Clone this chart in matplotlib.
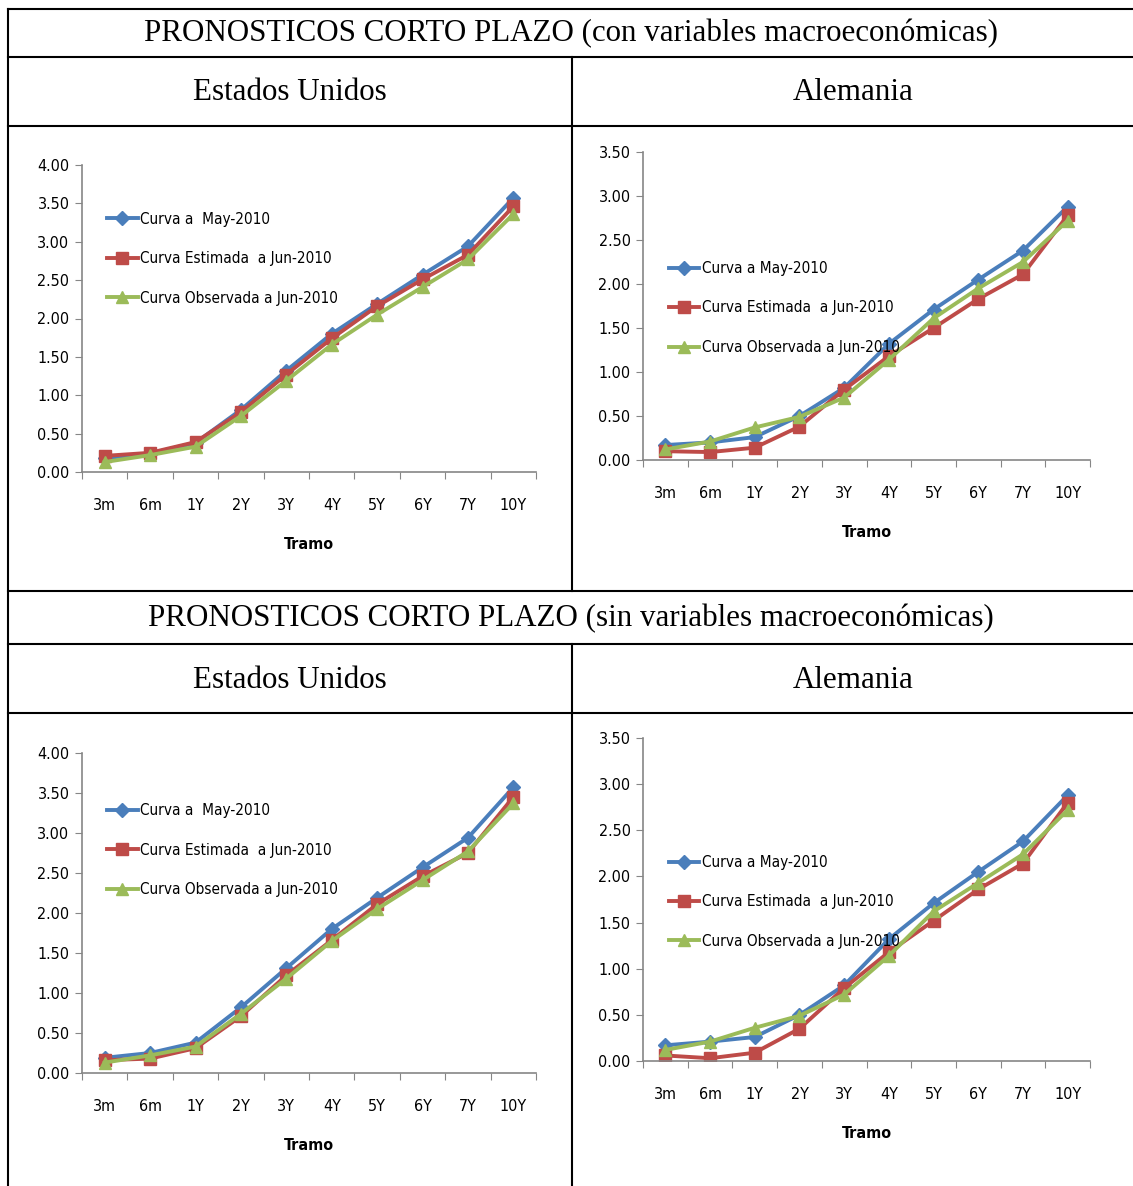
import matplotlib
matplotlib.use("Agg")
import matplotlib.pyplot as plt
from matplotlib.lines import Line2D
from matplotlib import font_manager

# Tramos de la curva
tramos = ['3m', '6m', '1Y', '2Y', '3Y', '4Y', '5Y', '6Y', '7Y', '10Y']

# Estados Unidos, con variables macroeconómicas
us_con_may = [0.18, 0.24, 0.38, 0.81, 1.32, 1.80, 2.19, 2.57, 2.94, 3.57]
us_con_est = [0.21, 0.25, 0.39, 0.78, 1.27, 1.74, 2.16, 2.51, 2.83, 3.46]
us_con_obs = [0.13, 0.22, 0.33, 0.73, 1.19, 1.66, 2.05, 2.41, 2.77, 3.36]

# Alemania, con variables macroeconómicas
de_con_may = [0.17, 0.20, 0.26, 0.50, 0.82, 1.32, 1.71, 2.05, 2.38, 2.88]
de_con_est = [0.10, 0.09, 0.14, 0.38, 0.80, 1.18, 1.50, 1.83, 2.11, 2.78]
de_con_obs = [0.12, 0.21, 0.37, 0.49, 0.71, 1.14, 1.61, 1.95, 2.25, 2.72]

# Estados Unidos, sin variables macroeconómicas
us_sin_may = [0.19, 0.25, 0.38, 0.82, 1.31, 1.80, 2.19, 2.57, 2.94, 3.57]
us_sin_est = [0.16, 0.18, 0.31, 0.71, 1.22, 1.66, 2.11, 2.46, 2.75, 3.45]
us_sin_obs = [0.13, 0.22, 0.33, 0.74, 1.18, 1.65, 2.05, 2.41, 2.77, 3.37]

# Alemania, sin variables macroeconómicas
de_sin_may = [0.17, 0.21, 0.26, 0.50, 0.82, 1.32, 1.71, 2.05, 2.38, 2.88]
de_sin_est = [0.06, 0.03, 0.09, 0.35, 0.79, 1.18, 1.52, 1.86, 2.14, 2.80]
de_sin_obs = [0.12, 0.21, 0.36, 0.49, 0.72, 1.14, 1.62, 1.93, 2.24, 2.72]

W, H = 1133, 1186
fig = plt.figure(figsize=(W / 100, H / 100), dpi=100)
fig.patch.set_facecolor('white')

# fuente estrecha si existe (parecida a Calibri)
nombres = {f.name for f in font_manager.fontManager.ttflist}
cond = [f for f in font_manager.fontManager.ttflist
        if f.name == 'DejaVu Sans' and f.stretch == 'condensed']
if 'Liberation Sans Narrow' in nombres:
    fam = dict(family='Liberation Sans Narrow')
elif cond:
    fam = dict(family='DejaVu Sans', stretch='condensed')
else:
    fam = dict(family='Liberation Sans')
narrow = font_manager.FontProperties(size=11.5, **fam)
narrow_leg = font_manager.FontProperties(size=11, **fam)
serif = ['Liberation Serif', 'DejaVu Serif']

BLUE = '#4A7EBB'
RED = '#BE4B48'
GREEN = '#9BBB59'
GRAY = '#868686'


def fx(px):
    return px / W


def fy(py):
    return 1 - py / H


def hline(y, x0, x1):
    fig.add_artist(Line2D([fx(x0), fx(x1)], [fy(y), fy(y)], color='black', lw=1.5))


def vline(x, y0, y1):
    fig.add_artist(Line2D([fx(x), fx(x)], [fy(y0), fy(y1)], color='black', lw=1.5))


# bordes de la tabla
for y in [8.5, 57, 126, 591, 644, 713]:
    hline(y, 7.5, W)
vline(7.5, 8.5, H)
vline(572, 57, 591)
vline(572, 644, H)

fig.text(fx(571), fy(34), 'PRONOSTICOS CORTO PLAZO (con variables macroeconómicas)',
         family=serif, fontsize=22.3, ha='center', va='center')
fig.text(fx(571), fy(619), 'PRONOSTICOS CORTO PLAZO (sin variables macroeconómicas)',
         family=serif, fontsize=22.3, ha='center', va='center')
for y in [93, 680]:
    fig.text(fx(290), fy(y), 'Estados Unidos', family=serif, fontsize=22.3, ha='center', va='center')
    fig.text(fx(853), fy(y), 'Alemania', family=serif, fontsize=22.3, ha='center', va='center')


def chart(box, ymax, may, est, obs, leg_xy, lab_may):
    left, top, right, bottom = box
    ax = fig.add_axes([fx(left), fy(bottom), fx(right - left), (bottom - top) / H])
    x = list(range(len(tramos)))
    ax.plot(x, may, color=BLUE, lw=2.8, marker='D', ms=7, label=lab_may)
    ax.plot(x, est, color=RED, lw=2.8, marker='s', ms=8, label='Curva Estimada  a Jun-2010')
    ax.plot(x, obs, color=GREEN, lw=2.8, marker='^', ms=9, label='Curva Observada a Jun-2010')
    ax.set_xlim(-0.5, len(tramos) - 0.5)
    ax.set_ylim(0, ymax)
    n = int(ymax / 0.5) + 1
    ax.set_yticks([i * 0.5 for i in range(n)])
    ax.set_yticklabels(['%.2f' % (i * 0.5) for i in range(n)], fontproperties=narrow)
    ax.set_xticks([i - 0.5 for i in range(len(tramos) + 1)])
    ax.set_xticklabels([])
    ax.set_xticks(x, minor=True)
    ax.set_xticklabels(tramos, minor=True, fontproperties=narrow)
    ax.tick_params(axis='x', which='major', length=5, color=GRAY, direction='out')
    ax.tick_params(axis='x', which='minor', length=0, pad=19)
    ax.tick_params(axis='y', length=5, color=GRAY, direction='out', pad=4)
    for s in ['top', 'right']:
        ax.spines[s].set_visible(False)
    for s in ['left', 'bottom']:
        ax.spines[s].set_color(GRAY)
        ax.spines[s].set_linewidth(1.2)
    ax.set_xlabel('Tramo', fontproperties=narrow, fontweight='bold', labelpad=17)
    ax.legend(loc='upper left', bbox_to_anchor=leg_xy, frameon=False,
              prop=narrow_leg, handlelength=2.0,
              handletextpad=0.15, labelspacing=1.6, borderpad=0, borderaxespad=0)
    ax.patch.set_alpha(0)
    return ax


chart((82, 165, 536, 472), 4.0, us_con_may, us_con_est, us_con_obs, (0.055, 0.848), 'Curva a  May-2010')
chart((643, 152, 1090, 460), 3.5, de_con_may, de_con_est, de_con_obs, (0.058, 0.646), 'Curva a May-2010')
chart((82, 753, 536, 1073), 4.0, us_sin_may, us_sin_est, us_sin_obs, (0.055, 0.843), 'Curva a  May-2010')
chart((643, 738, 1090, 1061), 3.5, de_sin_may, de_sin_est, de_sin_obs, (0.058, 0.638), 'Curva a May-2010')

fig.savefig('out.png', dpi=100)
